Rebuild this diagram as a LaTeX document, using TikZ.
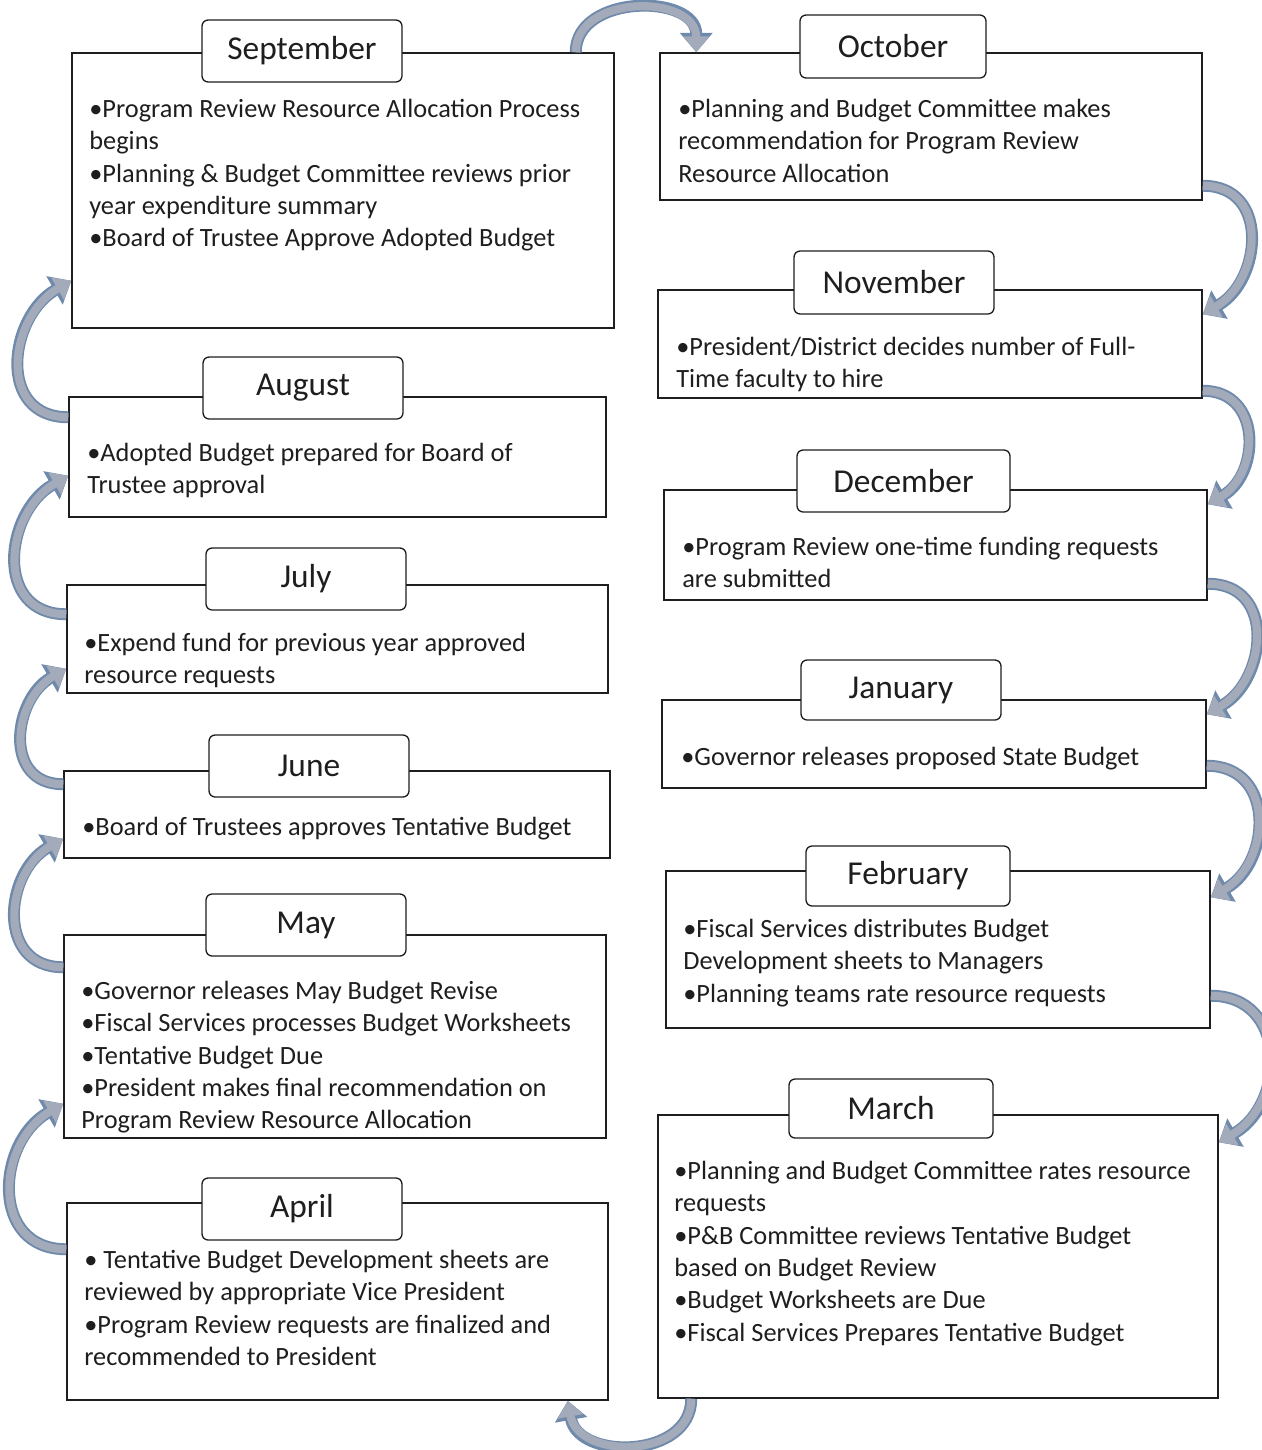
\documentclass[tikz,border=0pt]{standalone}
\usepackage{fontspec}
\setmainfont{Carlito}
\usepackage{xcolor}
\usepackage{tikz}
\usetikzlibrary{arrows.meta, calc, fit}

\definecolor{flowfill}{RGB}{163,171,186}
\definecolor{flowedge}{RGB}{112,138,172}
\definecolor{inkgray}{RGB}{30,30,30}

\begin{document}
\begin{tikzpicture}[x=0.02cm, y=0.02cm,
  monthbox/.style={draw=inkgray, line width=0.85pt, inner sep=0pt},
  monthtab/.style={draw=inkgray, fill=white, line width=0.75pt, rounded corners=3.5pt, inner sep=0pt},
  monthlbl/.style={inner sep=0pt, font=\fontsize{19}{22}\selectfont, text=inkgray},
  monthtxt/.style={anchor=north west, inner sep=0pt, align=left, text=inkgray,
    font=\fontsize{15}{18.4}\selectfont},
  flow/.style={preaction={draw=flowedge, line width=6.8pt, -{Triangle[length=11pt,width=18pt]}},
    draw=flowfill, line width=4.6pt, -{Triangle[length=9pt,width=14pt]}}]
  \useasboundingbox (0,0) rectangle (1261,-1450);

  % left column
  \node[monthbox, fit={(72,-53) (614,-328)}] (sep) {};
  \node[monthtab, fit={(202,-20) (402,-82)}] (septab) {};
  \node[monthlbl] (seplbl) at (septab.center) {September};
  \node[monthtxt] (septxt) at (89,-99) {•Program Review Resource Allocation Process\\begins\\•Planning \& Budget Committee reviews prior\\year expenditure summary\\•Board of Trustee Approve Adopted Budget};

  \node[monthbox, fit={(69,-397) (606,-517)}] (aug) {};
  \node[monthtab, fit={(203,-357) (403,-419)}] (augtab) {};
  \node[monthlbl] (auglbl) at (augtab.center) {August};
  \node[monthtxt] (augtxt) at (87,-443) {•Adopted Budget prepared for Board of\\Trustee approval};

  \node[monthbox, fit={(67,-585) (608,-693)}] (jul) {};
  \node[monthtab, fit={(206,-548) (406,-610)}] (jultab) {};
  \node[monthlbl] (jullbl) at (jultab.center) {July};
  \node[monthtxt] (jultxt) at (84,-633) {•Expend fund for previous year approved\\resource requests};

  \node[monthbox, fit={(64,-771) (610,-858)}] (jun) {};
  \node[monthtab, fit={(209,-735) (409,-797)}] (juntab) {};
  \node[monthlbl] (junlbl) at (juntab.center) {June};
  \node[monthtxt] (juntxt) at (82,-817) {•Board of Trustees approves Tentative Budget};

  \node[monthbox, fit={(64,-935) (606,-1138)}] (may) {};
  \node[monthtab, fit={(206,-894) (406,-956)}] (maytab) {};
  \node[monthlbl] (maylbl) at (maytab.center) {May};
  \node[monthtxt] (maytxt) at (81,-981) {•Governor releases May Budget Revise\\•Fiscal Services processes Budget Worksheets\\•Tentative Budget Due\\•President makes final recommendation on\\Program Review Resource Allocation};

  \node[monthbox, fit={(67,-1203) (608,-1400)}] (apr) {};
  \node[monthtab, fit={(202,-1178) (402,-1240)}] (aprtab) {};
  \node[monthlbl] (aprlbl) at (aprtab.center) {April};
  \node[monthtxt] (aprtxt) at (84,-1250) {• Tentative Budget Development sheets are\\reviewed by appropriate Vice President\\•Program Review requests are finalized and\\recommended to President};

  % right column
  \node[monthbox, fit={(660,-53) (1202,-200)}] (oct) {};
  \node[monthtab, fit={(800,-15) (986,-78)}] (octtab) {};
  \node[monthlbl] (octlbl) at (octtab.center) {October};
  \node[monthtxt] (octtxt) at (678,-99) {•Planning and Budget Committee makes\\recommendation for Program Review\\Resource Allocation};

  \node[monthbox, fit={(658,-290) (1202,-398)}] (nov) {};
  \node[monthtab, fit={(794,-251) (994,-314)}] (novtab) {};
  \node[monthlbl] (novlbl) at (novtab.center) {November};
  \node[monthtxt] (novtxt) at (676,-337) {•President/District decides number of Full-\\Time faculty to hire};

  \node[monthbox, fit={(664,-490) (1207,-600)}] (dec) {};
  \node[monthtab, fit={(797,-450) (1010,-512)}] (dectab) {};
  \node[monthlbl] (declbl) at (dectab.center) {December};
  \node[monthtxt] (dectxt) at (682,-537) {•Program Review one-time funding requests\\are submitted};

  \node[monthbox, fit={(662,-700) (1206,-788)}] (jan) {};
  \node[monthtab, fit={(801,-660) (1001,-720)}] (jantab) {};
  \node[monthlbl] (janlbl) at (jantab.center) {January};
  \node[monthtxt] (jantxt) at (681,-747) {•Governor releases proposed State Budget};

  \node[monthbox, fit={(666,-871) (1210,-1028)}] (feb) {};
  \node[monthtab, fit={(806,-846) (1010,-906)}] (febtab) {};
  \node[monthlbl] (feblbl) at (febtab.center) {February};
  \node[monthtxt] (febtxt) at (683,-919) {•Fiscal Services distributes Budget\\Development sheets to Managers\\•Planning teams rate resource requests};

  \node[monthbox, fit={(658,-1115) (1218,-1398)}] (mar) {};
  \node[monthtab, fit={(789,-1079) (993,-1138)}] (martab) {};
  \node[monthlbl] (marlbl) at (martab.center) {March};
  \node[monthtxt] (martxt) at (674,-1161) {•Planning and Budget Committee rates resource\\requests\\•P\&B Committee reviews Tentative Budget\\based on Budget Review\\•Budget Worksheets are Due\\•Fiscal Services Prepares Tentative Budget};

  % yearly cycle
  \draw[flow] ($(sep.north east)+(-39,0)$) to[out=90, in=90, looseness=1.25] ($(oct.north west)+(37,0)$);
  \draw[flow] ($(oct.south east)+(0,15)$) to[out=0, in=30, looseness=1.35] ($(nov.north east)+(0,-25)$);
  \draw[flow] ($(nov.south east)+(0,8)$) to[out=0, in=30, looseness=1.35] ($(dec.north east)+(0,-15)$);
  \draw[flow] ($(dec.south east)+(0,17)$) to[out=0, in=30, looseness=1.35] ($(jan.north east)+(0,-15)$);
  \draw[flow] ($(jan.south east)+(0,23)$) to[out=0, in=30, looseness=1.35] ($(feb.north east)+(0,-27)$);
  \draw[flow] ($(feb.south east)+(0,33)$) to[out=0, in=30, looseness=1.35] ($(mar.north east)+(0,-28)$);
  \draw[flow] ($(mar.south west)+(34,0)$) to[out=-90, in=-80, looseness=1.25] ($(apr.south east)+(-41,0)$);
  \draw[flow] ($(apr.north west)+(0,-47)$) to[out=180, in=210, looseness=1.35] ($(may.south west)+(0,35)$);
  \draw[flow] ($(may.north west)+(0,-33)$) to[out=180, in=210, looseness=1.35] ($(jun.south west)+(0,20)$);
  \draw[flow] ($(jun.north west)+(0,-14)$) to[out=180, in=210, looseness=1.35] ($(jul.south west)+(0,25)$);
  \draw[flow] ($(jul.north west)+(0,-30)$) to[out=180, in=210, looseness=1.35] ($(aug.south west)+(0,42)$);
  \draw[flow] ($(aug.north west)+(0,-21)$) to[out=180, in=210, looseness=1.35] ($(sep.south west)+(0,48)$);
\end{tikzpicture}
\end{document}
